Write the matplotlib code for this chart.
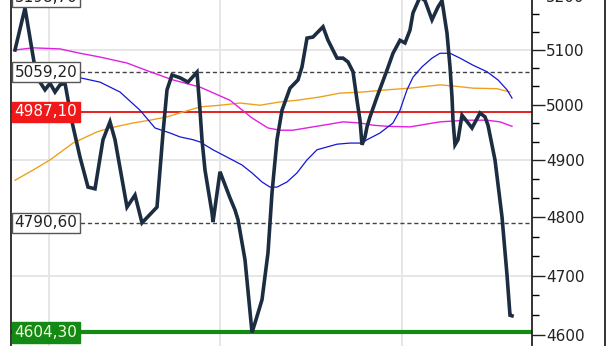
import matplotlib
matplotlib.use("Agg")
import matplotlib.pyplot as plt
from matplotlib.ticker import FixedLocator, NullFormatter, FuncFormatter
from matplotlib.lines import Line2D
import matplotlib.transforms as mtransforms

# ---------------- data ----------------
price_t = [0, 2, 4.4, 5, 6, 7, 8, 9, 10, 11.4, 13, 14.6, 16, 17.6, 19, 20, 22.4, 24, 25.4,
           28.4, 29.6, 30.4, 31.4, 33, 34.6, 36.4, 37, 37.4, 38, 39.4, 39.6, 41, 43, 44, 44.6,
           46, 47.4, 48, 49.4, 50.6, 51.4, 52.4, 53.4, 55, 56.6, 57.4, 58.4, 59.6, 61.6, 62.6,
           64.4, 65.6, 66.6, 67.6, 68.4, 69, 69.4, 70, 70.4, 71, 72.4, 74.4, 75.6, 77, 78, 79,
           79.6, 81, 82, 83.4, 84.6, 85.4, 86.4, 87, 87.4, 87.6, 88, 88.6, 89.4, 91.4, 93, 94,
           94.6, 96, 97.4, 98.4, 99, 99.4]
price_v = [5100, 5178, 5045, 5041, 5027, 5039, 5023, 5036, 5039, 4969, 4906, 4853, 4850, 4937,
           4969, 4937, 4818, 4839, 4790.6, 4818, 4949, 5027, 5054, 5049, 5041, 5059.2, 4990,
           4937, 4883, 4808, 4792, 4880, 4834, 4813, 4796, 4727, 4604.3, 4620, 4659, 4739,
           4843, 4937, 4990, 5030, 5045, 5069, 5122, 5124, 5143, 5118, 5085, 5085, 5078, 5060,
           5008, 4972, 4928, 4942, 4960, 4978, 5014, 5063, 5094, 5118, 5113, 5137, 5169,
           5198.7, 5192, 5156, 5180, 5192, 5131, 5069, 5014, 4972, 4928, 4937, 4981, 4958,
           4985, 4978, 4963, 4901, 4801, 4701, 4633, 4632]

blue_t = [0, 7, 14, 17, 21, 25, 28, 31, 33, 35.6, 37, 39.6, 42.4, 45.4, 47.4, 49.4, 51, 52.4,
          54.4, 56.4, 58.4, 60.4, 62.4, 64.4, 67, 69.4, 70.4, 73, 75.6, 77, 78.4, 79.6, 81.4,
          83.4, 85, 87, 89, 91.6, 94.4, 96.6, 98.4, 99.4]
blue_v = [5067, 5060, 5047, 5041, 5023, 4990, 4958, 4949, 4942, 4937, 4933, 4919, 4906, 4892,
          4878, 4862, 4853, 4853, 4862, 4878, 4901, 4919, 4924, 4929, 4931, 4931, 4937, 4949,
          4967, 4990, 5027, 5050, 5069, 5085, 5094, 5094, 5085, 5072, 5060, 5045, 5027, 5012]

mag_t = [0, 3.6, 9, 13, 17, 22.4, 27, 31.6, 37, 43, 47.4, 50.6, 53, 55.6, 59.6, 63, 65.6, 69,
         71.6, 74.4, 79, 85, 90.4, 94.4, 97, 99.4]
mag_v = [5100, 5104, 5102, 5094, 5087, 5076, 5060, 5045, 5032, 5008, 4976, 4958, 4954, 4954,
         4960, 4965, 4969, 4967, 4963, 4961, 4960, 4969, 4972, 4972, 4969, 4961]

orange_t = [0, 3.6, 7, 11.6, 16.4, 19, 23.6, 27, 30.4, 37, 41, 45, 49, 53, 56.4, 61, 65, 69.6,
            74.4, 79, 85, 87.6, 91.6, 96.4, 99]
orange_v = [4865, 4883, 4901, 4931, 4951, 4958, 4967, 4972, 4978, 4996, 4999, 5003, 4999, 5005,
            5008, 5014, 5021, 5023, 5027, 5030, 5036, 5034, 5030, 5029, 5023]

level_max = 5198.70
level_upper = 5059.20
level_mid = 4987.10
level_lower = 4790.60
level_min = 4604.30

major_ticks = [4600, 4700, 4800, 4900, 5000, 5100, 5200]
minor_ticks = [4633.3, 4666.7, 4733.3, 4766.7, 4833.3, 4866.7, 4933.3, 4966.7,
               5033.3, 5066.7, 5133.3, 5166.7]
hgrid = [4700, 4900, 5100]
vgrid = [6.8, 41, 77.4]

# ---------------- figure ----------------
W, H = 616, 346
fig = plt.figure(figsize=(W / 100, H / 100), dpi=100)
ax_left, ax_right = 11, 532
ax_top_px, ax_bot_px = -20, 345.5
ax = fig.add_axes([ax_left / W, (H - ax_bot_px) / H, (ax_right - ax_left) / W,
                   (ax_bot_px - ax_top_px) / H])
ax.set_yscale('log')
ax.set_ylim(4582.5, 5230.9)
ax.set_xlim(-0.8, 103.4)

for g in hgrid:
    ax.axhline(g, color='#e6e6e6', lw=1.4, zorder=0)
for g in vgrid:
    ax.axvline(g, color='#e6e6e6', lw=1.4, zorder=0)

ax.plot(orange_t, orange_v, color='#f0a020', lw=1.0, zorder=2)
ax.plot(mag_t, mag_v, color='#e020e0', lw=1.0, zorder=2)
ax.plot(blue_t, blue_v, color='#1515d5', lw=0.9, zorder=2)

ax.axhline(level_max, color='#444444', lw=1.0, ls=(0, (3, 2)), zorder=1)
ax.axhline(level_upper, color='#444444', lw=1.0, ls=(0, (3, 2)), zorder=1)
ax.axhline(level_lower, color='#444444', lw=1.0, ls=(0, (3, 2)), zorder=1)
ax.axhline(level_mid, color='#e01010', lw=1.3, zorder=1)
ax.axhline(level_min, color='#138a13', lw=3.0, zorder=1)

ax.plot(price_t, price_v, color='#1c2d42', lw=2.6, zorder=3, solid_joinstyle='miter')

trans = mtransforms.blended_transform_factory(ax.transAxes, ax.transData)


def fmt(v):
    return ('%.2f' % v).replace('.', ',')


labels = [(level_max, 'white', '#222222', '#555555'),
          (level_upper, 'white', '#222222', '#555555'),
          (level_mid, '#f01818', 'white', '#f01818'),
          (level_lower, 'white', '#222222', '#555555'),
          (level_min, '#138a13', '#f4f8e0', '#138a13')]
for v, fc, tc, ec in labels:
    ax.text(0.0065, v, fmt(v), transform=trans, ha='left', va='center', fontsize=11,
            color=tc, zorder=5,
            bbox=dict(boxstyle='square,pad=0.18', fc=fc, ec=ec, lw=1.0))

ax.yaxis.tick_right()
ax.yaxis.set_major_locator(FixedLocator(major_ticks))
ax.yaxis.set_minor_locator(FixedLocator(minor_ticks))
ax.yaxis.set_major_formatter(FuncFormatter(lambda v, p: '%d' % v))
ax.yaxis.set_minor_formatter(NullFormatter())
ax.tick_params(axis='y', which='major', direction='out', length=9, width=1, pad=1,
               labelsize=11, colors='#222222')
ax.tick_params(axis='y', which='minor', direction='out', length=5, width=1)
ax.tick_params(axis='x', which='both', bottom=False, labelbottom=False)

for s in ['left', 'right']:
    ax.spines[s].set_color('#111111')
    ax.spines[s].set_linewidth(1.2)
ax.spines['top'].set_visible(False)
ax.spines['bottom'].set_color('#e0e0e0')

fig.add_artist(Line2D([605 / W, 605 / W], [0, 1], color='#111111', lw=1.2,
                      transform=fig.transFigure))

fig.savefig('out.png', dpi=100)
